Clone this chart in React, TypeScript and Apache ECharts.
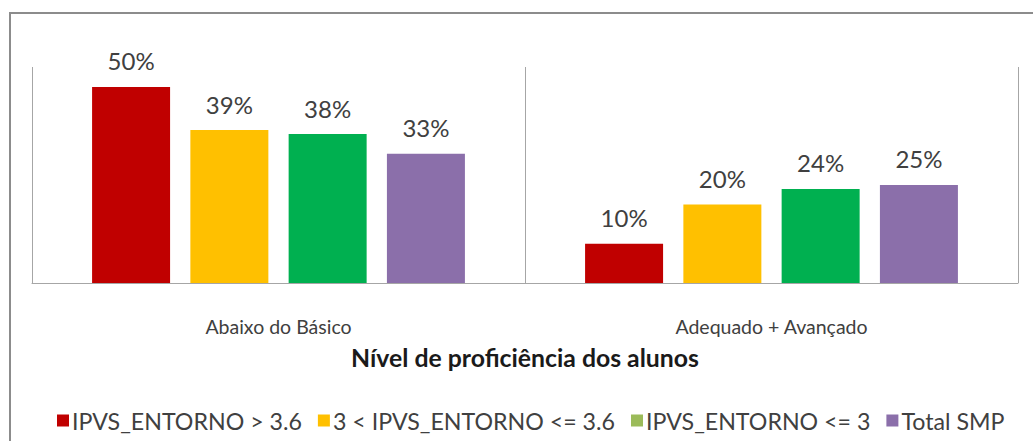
import React, { useEffect, useRef } from "react";
import * as echarts from "echarts";

const categories = ["Abaixo do Básico", "Adequado + Avançado"];
const seriesNames = ["IPVS_ENTORNO > 3.6", "3 < IPVS_ENTORNO <= 3.6", "IPVS_ENTORNO <= 3", "Total SMP"];
const seriesValues = [
  [50, 10],
  [39, 20],
  [38, 24],
  [33, 25],
];
const barColors = ["#C00000", "#FFC000", "#00B050", "#8B6FAA"];
const legendColors = ["#C00000", "#FFC000", "#9BBB59", "#8B6FAA"];
const axisTitle = "Nível de proficiência dos alunos";

const FONT = "Lato, 'Noto Sans', sans-serif";

export default function App() {
  const ref = useRef<HTMLDivElement>(null);
  useEffect(() => {
    if (!ref.current) return;
    const chart = echarts.init(ref.current, null, { renderer: "svg" });
    chart.setOption({
      animation: false,
      backgroundColor: "#ffffff",
      textStyle: { fontFamily: FONT },
      graphic: [
        {
          type: "rect",
          shape: { x: 10, y: 13, width: 1040, height: 450 },
          style: { fill: "none", stroke: "#8c8c8c", lineWidth: 2 },
          silent: true,
        },
      ],
      grid: { left: 32, right: 15, top: 67, bottom: 158, containLabel: false },
      legend: {
        left: 52,
        top: 404,
        itemWidth: 12,
        itemHeight: 12,
        itemGap: 16,
        icon: "rect",
        textStyle: { fontFamily: FONT, fontSize: 23.2, color: "#404040", padding: [0, 0, 0, -2] },
        data: seriesNames.map((n, i) => ({ name: n, itemStyle: { color: legendColors[i] } })),
      },
      xAxis: {
        type: "category",
        data: categories,
        axisTick: { show: false },
        axisLine: { lineStyle: { color: "#a6a6a6", width: 1 } },
        axisLabel: { margin: 33, fontSize: 19.5, color: "#404040", fontFamily: FONT },
        splitLine: { show: true, showMinLine: true, showMaxLine: true, lineStyle: { color: "#a6a6a6", width: 1 } },
        name: axisTitle,
        nameLocation: "middle",
        nameGap: 62,
        nameTextStyle: { fontSize: 24.8, fontWeight: "bold", color: "#1a1a1a", fontFamily: FONT },
      },
      yAxis: {
        type: "value",
        min: 0,
        max: 55.1,
        show: false,
      },
      series: seriesNames.map((name, i) => ({
        name,
        type: "bar",
        data: seriesValues[i],
        barWidth: 78,
        barGap: "26%",
        itemStyle: { color: barColors[i] },
        label: {
          show: true,
          position: "top",
          distance: 14,
          formatter: "{c}%",
          fontSize: 24,
          color: "#404040",
          fontFamily: FONT,
        },
      })),
    });
    return () => chart.dispose();
  }, []);
  return (
    <div
      ref={ref}
      style={{ position: "fixed", left: 0, top: 0, width: 1033, height: 441 }}
    />
  );
}
